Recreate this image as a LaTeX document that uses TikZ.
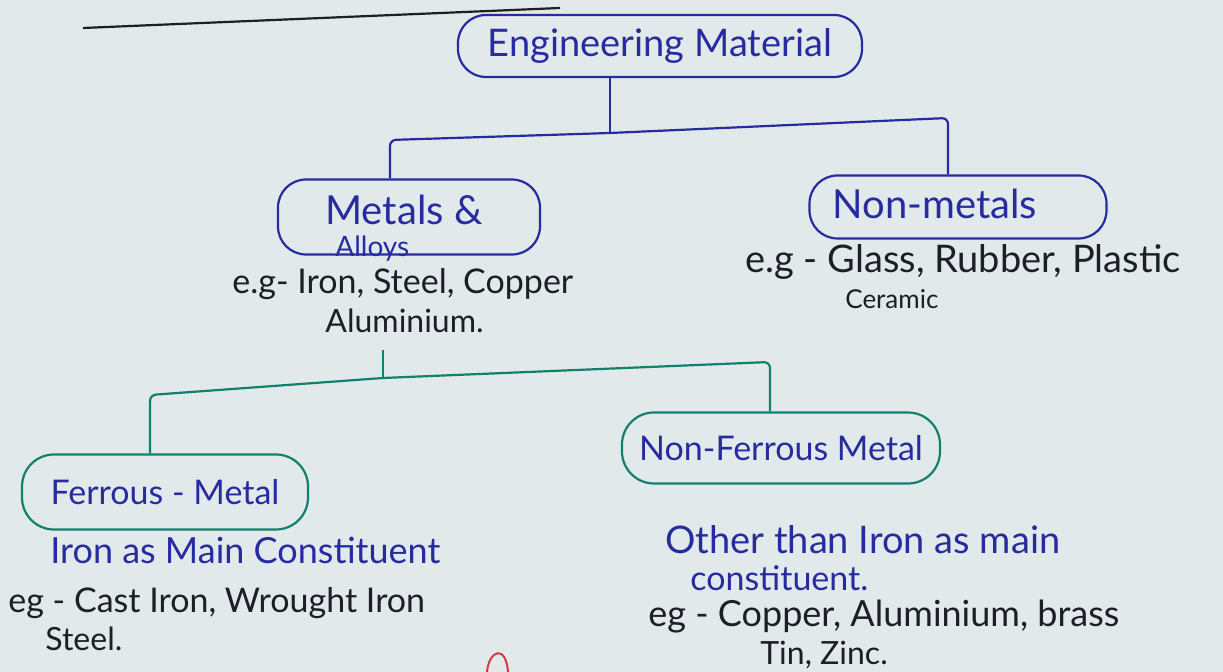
\documentclass[tikz,border=0pt]{standalone}
\usepackage{fontspec}
\setmainfont{Lato}
\definecolor{paper}{RGB}{226,233,234}
\definecolor{inkblue}{RGB}{38,44,160}
\definecolor{inkblack}{RGB}{30,30,40}
\definecolor{inkgreen}{RGB}{18,128,108}
\definecolor{inkred}{RGB}{205,60,70}
\tikzset{
  bluebox/.style={draw=inkblue, line width=1.1pt, rounded corners=14pt, inner sep=0pt, text=inkblue},
  greenbox/.style={draw=inkgreen, line width=1.1pt, rounded corners=16pt, inner sep=0pt, text=inkblue},
  bluetxt/.style={text=inkblue, inner sep=0pt, anchor=west},
  blacktxt/.style={text=inkblack, inner sep=0pt, anchor=west},
  blueline/.style={draw=inkblue, line width=1.1pt, rounded corners=3pt},
  greenline/.style={draw=inkgreen, line width=1.1pt, rounded corners=3pt},
  fs/.style={font=\fontsize{#1pt}{#1pt}\selectfont}
}
\begin{document}
\begin{tikzpicture}[x=0.5pt,y=-0.5pt]
\fill[paper] (0,0) rectangle (1223,672);
\useasboundingbox (0,0) rectangle (1223,672);

% heading underline (heading cut off at top)
\draw[inkblack, line width=1.1pt] (83,28) -- (560,8);

% boxes
\node[bluebox, minimum width=202pt, minimum height=31pt, fs=19] (eng) at (660,46) {Engineering Material};
\node[bluebox, minimum width=131pt, minimum height=37.5pt] (metals) at (409,217) {};
\node[bluetxt, fs=20] (metT) at (325,210) {Metals \&};
\node[bluetxt, fs=14] (allT) at (335,249) {Alloys};
\node[bluebox, minimum width=148.5pt, minimum height=31.5pt] (nonmet) at (958,207) {};
\node[bluetxt, fs=20] (nonmetT) at (832,204) {Non-metals};

\node[greenbox, minimum width=143pt, minimum height=37.5pt, fs=17] (ferrous) at (165,492) {Ferrous - Metal};
\node[greenbox, minimum width=159pt, minimum height=35.5pt, fs=17] (nonfer) at (781,448) {Non-Ferrous Metal};

% blue tree
\coordinate (j1) at (610,133);
\coordinate (t1l) at (390,140);
\coordinate (t1r) at (948,118);
\draw[blueline] (eng.south -| j1) -- (j1);
\draw[blueline] (metals.north -| t1l) -- (t1l) -- (j1) -- (t1r) -- (nonmet.north -| t1r);

% examples
\node[blacktxt, fs=17] (eg1) at (232,284) {e.g- Iron, Steel, Copper};
\node[blacktxt, fs=16] (eg1b) at (325,321) {Aluminium.};
\node[blacktxt, fs=19] (eg2) at (745,262) {e.g - Glass, Rubber, Plastic};
\node[blacktxt, fs=13] (eg2b) at (845,299) {Ceramic};

% green tree
\coordinate (g0) at (383,350);
\coordinate (j2) at (383,378);
\coordinate (g1) at (150,395);
\coordinate (g2) at (770,362);
\draw[greenline] (g0) -- (j2);
\draw[greenline] (ferrous.north -| g1) -- (g1) -- (j2) -- (g2) -- (nonfer.north -| g2);

% ferrous notes
\node[bluetxt, fs=18] (fer1) at (50,550) {Iron as Main Constituent};
\node[blacktxt, fs=17] (fer2) at (8,603) {eg - Cast Iron, Wrought Iron};
\node[blacktxt, fs=16] (fer3) at (45,639) {Steel.};

% non-ferrous notes
\node[bluetxt, fs=19] (nf1) at (665,540) {Other than Iron as main};
\node[bluetxt, fs=17] (nf2) at (690,578) {constituent.};
\node[blacktxt, fs=18] (nf3) at (648,617) {eg - Copper, Aluminium, brass};
\node[blacktxt, fs=16] (nf4) at (760,655) {Tin, Zinc.};

% red mark at the bottom edge
\draw[inkred, line width=1pt] (487,672) .. controls (489,650) and (506,644) .. (508,672);
\end{tikzpicture}
\end{document}
